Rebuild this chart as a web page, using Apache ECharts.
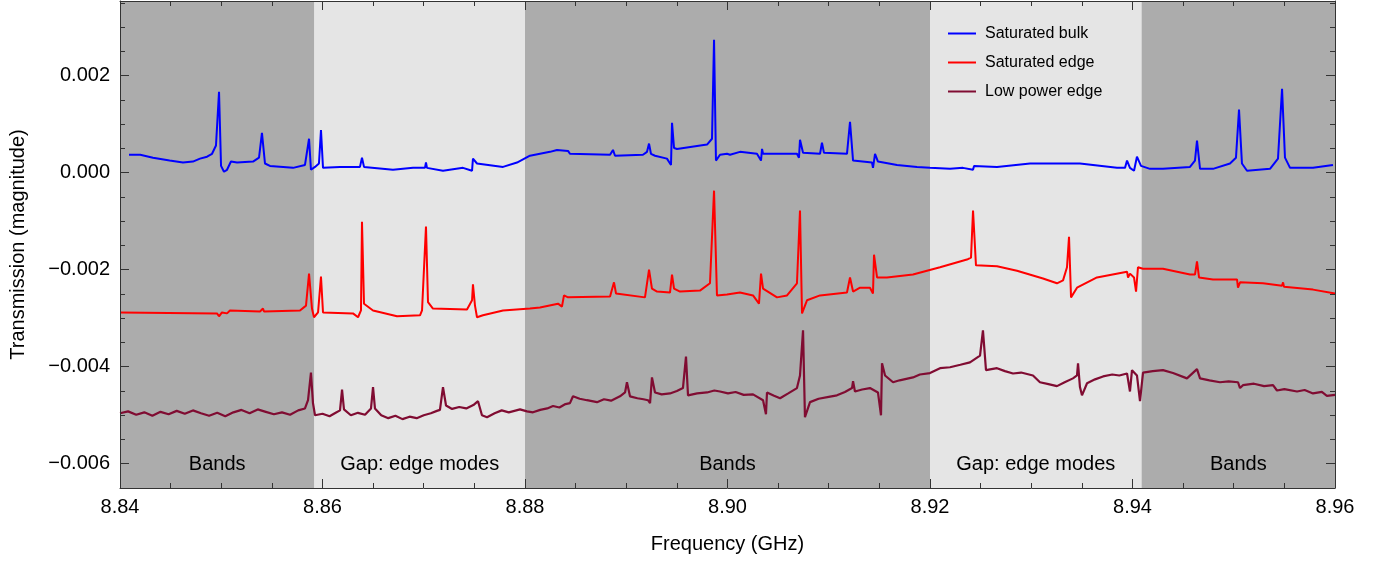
<!DOCTYPE html>
<html>
<head>
<meta charset="utf-8">
<script src="https://cdn.jsdelivr.net/npm/echarts@6/dist/echarts.min.js"></script>
<style>html,body{margin:0;padding:0;background:#fff}#c{width:1391px;height:561px}</style>
</head>
<body>
<div id="c"></div>
<script>
// ---- data ----
const xMajor = [8.84, 8.86, 8.88, 8.90, 8.92, 8.94, 8.96];
const xMinor = [8.845, 8.85, 8.855, 8.865, 8.87, 8.875, 8.885, 8.89, 8.895, 8.905, 8.91, 8.915, 8.925, 8.93, 8.935, 8.945, 8.95, 8.955];
const yMajor = [-0.006, -0.004, -0.002, 0.000, 0.002];
const yMinor = [-0.0065, -0.0055, -0.005, -0.0045, -0.0035, -0.003, -0.0025, -0.0015, -0.001, -0.0005, 0.0005, 0.001, 0.0015, 0.0025, 0.003, 0.0035];
const bandEdges = [8.84, 8.8592, 8.88, 8.92, 8.9409, 8.96];
const bandLabels = ['Bands', 'Gap: edge modes', 'Bands', 'Gap: edge modes', 'Bands'];
const bandIsGap = [false, true, false, true, false];
const seriesNames = ['Saturated bulk', 'Saturated edge', 'Low power edge'];

const saturatedBulk = [
[8.84089,0.00037],[8.84200,0.00037],[8.84326,0.00031],[8.84490,0.00025],[8.84622,0.00021],[8.84720,0.00023],[8.84790,0.00029],[8.84860,0.00033],[8.84909,0.00039],[8.84948,0.00056],
[8.84978,0.00167],[8.84998,0.00014],[8.85027,0.00002],[8.85057,0.00006],[8.85096,0.00023],[8.85156,0.00021],
[8.85314,0.00023],[8.85373,0.00031],[8.85402,0.00082],[8.85432,0.00019],[8.85481,0.00014],[8.85709,0.00010],
[8.85827,0.00016],[8.85867,0.00070],[8.85886,0.00006],[8.85926,0.00012],[8.85965,0.00019],[8.85985,0.00088],
[8.86005,0.00010],[8.86173,0.00012],[8.86370,0.00012],[8.86390,0.00031],[8.86410,0.00012],[8.86696,0.00006],
[8.86894,0.00010],[8.87012,0.00010],[8.87022,0.00021],[8.87032,0.00010],[8.87190,0.00004],[8.87388,0.00010],
[8.87477,0.00004],[8.87486,0.00029],[8.87526,0.00019],[8.87783,0.00012],[8.87921,0.00021],[8.88049,0.00035],
[8.88247,0.00043],[8.88316,0.00047],[8.88425,0.00045],[8.88444,0.00039],[8.88840,0.00037],[8.88869,0.00047],
[8.88889,0.00035],[8.89165,0.00037],[8.89205,0.00043],[8.89225,0.00060],[8.89244,0.00039],[8.89284,0.00035],
[8.89402,0.00029],[8.89442,0.00016],[8.89452,0.00103],[8.89472,0.00051],[8.89501,0.00049],[8.89798,0.00058],
[8.89847,0.00070],[8.89867,0.00274],[8.89886,0.00025],[8.89926,0.00037],[8.89995,0.00039],[8.90025,0.00037],
[8.90123,0.00043],[8.90291,0.00039],[8.90331,0.00025],[8.90341,0.00049],[8.90351,0.00039],[8.90686,0.00039],
[8.90706,0.00031],[8.90716,0.00068],[8.90746,0.00041],[8.90914,0.00039],[8.90933,0.00062],[8.90953,0.00041],
[8.91180,0.00039],[8.91210,0.00105],[8.91240,0.00025],[8.91427,0.00021],[8.91437,0.00010],[8.91457,0.00039],
[8.91486,0.00023],[8.91674,0.00016],[8.91872,0.00012],[8.92000,0.00010],[8.92198,0.00008],[8.92326,0.00010],
[8.92425,0.00006],[8.92435,0.00014],[8.92662,0.00012],[8.92988,0.00019],[8.93481,0.00019],[8.93847,0.00010],
[8.93926,0.00010],[8.93946,0.00025],[8.93975,0.00010],[8.94015,0.00004],[8.94044,0.00033],[8.94084,0.00014],
[8.94173,0.00008],[8.94301,0.00008],[8.94568,0.00012],[8.94617,0.00025],[8.94637,0.00066],[8.94667,0.00008],
[8.94795,0.00008],[8.94963,0.00019],[8.95022,0.00031],[8.95052,0.00130],[8.95081,0.00019],[8.95131,0.00004],
[8.95358,0.00008],[8.95437,0.00029],[8.95477,0.00173],[8.95506,0.00031],[8.95556,0.00010],[8.95783,0.00010],
[8.95980,0.00016]
];

const saturatedEdge = [
[8.84000,-0.00288],[8.84958,-0.00290],[8.84978,-0.00296],[8.85007,-0.00288],[8.85057,-0.00290],[8.85086,-0.00284],
[8.85383,-0.00286],[8.85412,-0.00280],[8.85422,-0.00286],[8.85778,-0.00284],[8.85837,-0.00274],[8.85867,-0.00208],
[8.85896,-0.00280],[8.85916,-0.00298],[8.85956,-0.00288],[8.85985,-0.00214],[8.86005,-0.00288],[8.86301,-0.00290],
[8.86351,-0.00298],[8.86380,-0.00284],[8.86390,-0.00101],[8.86410,-0.00270],[8.86499,-0.00284],[8.86736,-0.00296],
[8.86963,-0.00294],[8.86983,-0.00284],[8.87022,-0.00111],[8.87042,-0.00267],[8.87091,-0.00280],[8.87427,-0.00282],
[8.87477,-0.00263],[8.87486,-0.00230],[8.87506,-0.00274],[8.87526,-0.00298],[8.87585,-0.00294],[8.87783,-0.00284],
[8.88049,-0.00280],[8.88148,-0.00278],[8.88326,-0.00270],[8.88365,-0.00276],[8.88385,-0.00253],[8.88425,-0.00257],
[8.88840,-0.00255],[8.88879,-0.00226],[8.88899,-0.00249],[8.89185,-0.00257],[8.89225,-0.00200],[8.89254,-0.00239],
[8.89304,-0.00245],[8.89432,-0.00247],[8.89442,-0.00251],[8.89452,-0.00210],[8.89472,-0.00239],[8.89531,-0.00245],
[8.89728,-0.00243],[8.89827,-0.00228],[8.89867,-0.00037],[8.89896,-0.00253],[8.89995,-0.00251],[8.90005,-0.00255],
[8.90123,-0.00247],[8.90252,-0.00253],[8.90311,-0.00270],[8.90331,-0.00208],[8.90351,-0.00239],[8.90489,-0.00257],
[8.90588,-0.00253],[8.90686,-0.00228],[8.90716,-0.00078],[8.90736,-0.00290],[8.90785,-0.00263],[8.90914,-0.00253],
[8.91180,-0.00247],[8.91210,-0.00216],[8.91240,-0.00245],[8.91309,-0.00237],[8.91407,-0.00237],[8.91437,-0.00249],
[8.91447,-0.00169],[8.91477,-0.00216],[8.91575,-0.00216],[8.91832,-0.00210],[8.92099,-0.00195],[8.92365,-0.00179],
[8.92405,-0.00175],[8.92425,-0.00078],[8.92454,-0.00191],[8.92662,-0.00193],[8.92859,-0.00202],[8.93116,-0.00218],
[8.93254,-0.00228],[8.93314,-0.00222],[8.93353,-0.00195],[8.93373,-0.00132],[8.93393,-0.00257],[8.93452,-0.00237],
[8.93649,-0.00216],[8.93946,-0.00204],[8.93956,-0.00216],[8.93975,-0.00208],[8.94015,-0.00216],[8.94035,-0.00245],
[8.94054,-0.00195],[8.94104,-0.00198],[8.94301,-0.00198],[8.94568,-0.00210],[8.94617,-0.00210],[8.94637,-0.00183],
[8.94657,-0.00216],[8.94795,-0.00220],[8.95032,-0.00220],[8.95042,-0.00237],[8.95062,-0.00226],[8.95289,-0.00228],
[8.95477,-0.00233],[8.95487,-0.00226],[8.95496,-0.00235],[8.95783,-0.00241],[8.96000,-0.00249]
];

const lowPowerEdge = [
[8.8400,-0.00496],[8.8408,-0.00492],[8.8416,-0.00499],[8.8424,-0.00494],[8.8432,-0.00501],[8.8440,-0.00493],
[8.8448,-0.00498],[8.8456,-0.00491],[8.8464,-0.00497],[8.8472,-0.00490],[8.8480,-0.00496],[8.8488,-0.00501],
[8.8496,-0.00495],[8.8504,-0.00502],[8.8512,-0.00494],[8.8520,-0.00489],[8.8528,-0.00496],[8.8536,-0.00488],
[8.8544,-0.00493],[8.8552,-0.00498],[8.8560,-0.00494],[8.8568,-0.00499],[8.8576,-0.00490],[8.85827,-0.00486],
[8.85857,-0.00469],[8.85886,-0.00412],[8.85906,-0.00475],[8.85926,-0.00500],[8.8600,-0.00497],[8.8607,-0.00502],
[8.8613,-0.00495],[8.86173,-0.00490],[8.86193,-0.00447],[8.86212,-0.00488],[8.8628,-0.00500],[8.8635,-0.00495],
[8.8642,-0.00499],[8.86479,-0.00486],[8.86499,-0.00442],[8.86518,-0.00486],[8.8658,-0.00500],[8.8665,-0.00506],
[8.8672,-0.00501],[8.8679,-0.00508],[8.8686,-0.00503],[8.8693,-0.00506],[8.8700,-0.00500],[8.8707,-0.00496],
[8.8713,-0.00491],[8.87160,-0.00489],[8.87190,-0.00442],[8.87220,-0.00480],[8.8728,-0.00487],[8.8735,-0.00483],
[8.8742,-0.00486],[8.8749,-0.00479],[8.87506,-0.00478],[8.87536,-0.00471],[8.87575,-0.00500],[8.87625,-0.00504],
[8.8770,-0.00496],[8.8777,-0.00490],[8.8784,-0.00494],[8.87951,-0.00488],[8.8802,-0.00492],[8.88079,-0.00494],
[8.8815,-0.00489],[8.8822,-0.00486],[8.88277,-0.00481],[8.8834,-0.00484],[8.8840,-0.00477],[8.88444,-0.00475],
[8.88474,-0.00461],[8.8854,-0.00466],[8.88612,-0.00469],[8.88711,-0.00473],[8.8878,-0.00467],[8.8885,-0.00470],
[8.88938,-0.00461],[8.88988,-0.00453],[8.89007,-0.00432],[8.89037,-0.00461],[8.8911,-0.00465],[8.8917,-0.00467],
[8.89215,-0.00469],[8.89235,-0.00475],[8.89254,-0.00422],[8.89284,-0.00453],[8.8935,-0.00457],[8.89432,-0.00455],
[8.8950,-0.00450],[8.89560,-0.00444],[8.89590,-0.00379],[8.89610,-0.00459],[8.8970,-0.00455],[8.89798,-0.00453],
[8.8987,-0.00449],[8.89926,-0.00451],[8.90005,-0.00455],[8.9008,-0.00452],[8.9016,-0.00458],[8.90252,-0.00457],
[8.90351,-0.00469],[8.90380,-0.00498],[8.90390,-0.00453],[8.9046,-0.00460],[8.90519,-0.00465],[8.9060,-0.00455],
[8.90686,-0.00444],[8.90716,-0.00418],[8.90746,-0.00325],[8.90765,-0.00504],[8.90815,-0.00473],[8.9090,-0.00466],
[8.9100,-0.00462],[8.91081,-0.00459],[8.9116,-0.00452],[8.91230,-0.00444],[8.91240,-0.00430],[8.91259,-0.00451],
[8.9133,-0.00447],[8.91407,-0.00444],[8.91486,-0.00453],[8.91516,-0.00500],[8.91526,-0.00393],[8.91556,-0.00418],
[8.91635,-0.00432],[8.9170,-0.00428],[8.91832,-0.00422],[8.9190,-0.00416],[8.9200,-0.00413],[8.92099,-0.00403],
[8.92198,-0.00401],[8.9230,-0.00396],[8.92395,-0.00391],[8.92494,-0.00377],[8.92523,-0.00325],[8.92553,-0.00407],
[8.92662,-0.00403],[8.9274,-0.00409],[8.92820,-0.00414],[8.9290,-0.00412],[8.93017,-0.00418],[8.93086,-0.00432],
[8.9317,-0.00436],[8.93254,-0.00440],[8.9333,-0.00432],[8.93412,-0.00424],[8.93452,-0.00418],[8.93462,-0.00393],
[8.93481,-0.00442],[8.93501,-0.00459],[8.93551,-0.00434],[8.9363,-0.00426],[8.93709,-0.00420],[8.9380,-0.00416],
[8.93870,-0.00418],[8.93946,-0.00414],[8.93975,-0.00451],[8.93995,-0.00407],[8.94044,-0.00418],[8.94074,-0.00471],
[8.94104,-0.00412],[8.9420,-0.00409],[8.94301,-0.00407],[8.9440,-0.00413],[8.94538,-0.00424],[8.94637,-0.00405],
[8.94667,-0.00424],[8.9476,-0.00428],[8.94864,-0.00432],[8.9495,-0.00430],[8.95042,-0.00432],[8.95062,-0.00444],
[8.95091,-0.00438],[8.9520,-0.00435],[8.9530,-0.00440],[8.95388,-0.00438],[8.95427,-0.00449],[8.9550,-0.00446],
[8.95625,-0.00451],[8.9570,-0.00448],[8.95783,-0.00455],[8.9587,-0.00452],[8.9592,-0.00460],[8.9600,-0.00458]
];

// ---- chart ----
const FONT = "'Liberation Sans', Arial, sans-serif";
const frameColor = '#333';
const lineColors = ['#0000ff', '#ff0000', '#800c32'];
const X_MIN = 8.84, X_MAX = 8.96, Y_MIN = -0.0065, Y_MAX = 0.00354;

function fmtY(v) {
  const s = Math.abs(v) < 1e-12 ? '0.000' : v.toFixed(3);
  return s.replace('-', '\u2212');
}

function xAx(pos, ticks, len, showLine, labels) {
  return {
    type: 'value', min: X_MIN, max: X_MAX, position: pos, z: 10,
    splitLine: { show: false },
    axisLine: { show: showLine, onZero: false, lineStyle: { color: frameColor, width: 1 } },
    axisTick: { show: true, inside: true, length: len, customValues: ticks, lineStyle: { color: frameColor, width: 1 } },
    axisLabel: labels ? { show: true, customValues: ticks, formatter: v => v.toFixed(2), fontSize: 20, color: '#000', fontFamily: FONT, margin: 9 } : { show: false },
    name: labels ? 'Frequency (GHz)' : '',
    nameLocation: 'middle', nameGap: 46,
    nameTextStyle: { fontSize: 20, color: '#000', fontFamily: FONT }
  };
}
function yAx(pos, ticks, len, showLine, labels) {
  return {
    type: 'value', min: Y_MIN, max: Y_MAX, position: pos, z: 10,
    splitLine: { show: false },
    axisLine: { show: showLine, onZero: false, lineStyle: { color: frameColor, width: 1 } },
    axisTick: { show: true, inside: true, length: len, customValues: ticks, lineStyle: { color: frameColor, width: 1 } },
    axisLabel: labels ? { show: true, customValues: ticks, formatter: fmtY, fontSize: 20, color: '#000', fontFamily: FONT, margin: 10 } : { show: false },
    name: labels ? 'Transmission (magnitude)' : '',
    nameLocation: 'middle', nameGap: 92, nameRotate: 90,
    nameTextStyle: { fontSize: 20, color: '#000', fontFamily: FONT }
  };
}

const bands = [];
for (let i = 0; i < bandLabels.length; i++) {
  bands.push([
    { xAxis: bandEdges[i], yAxis: Y_MIN, name: bandLabels[i],
      itemStyle: { color: bandIsGap[i] ? '#e5e5e5' : '#acacac' } },
    { xAxis: bandEdges[i + 1], yAxis: Y_MAX }
  ]);
}

const chart = echarts.init(document.getElementById('c'), null, { renderer: 'canvas' });
chart.setOption({
  animation: false,
  backgroundColor: '#fff',
  grid: { left: 120, right: 56, top: 1, bottom: 73 },
  xAxis: [
    xAx('bottom', xMajor, 9, true, true),
    xAx('bottom', xMinor, 5, false, false),
    xAx('top', xMajor, 9, true, false),
    xAx('top', xMinor, 5, false, false)
  ],
  yAxis: [
    yAx('left', yMajor, 9, true, true),
    yAx('left', yMinor, 5, false, false),
    yAx('right', yMajor, 9, true, false),
    yAx('right', yMinor, 5, false, false)
  ],
  legend: {
    orient: 'vertical', left: 943, top: 20, icon: 'rect', itemWidth: 28, itemHeight: 2, itemGap: 12,
    data: seriesNames,
    textStyle: { fontSize: 16, lineHeight: 17, color: '#000', fontFamily: FONT, padding: [0, 0, 0, 4] }
  },
  graphic: [
    { type: 'text', left: 133, top: 7, style: { text: 'a', fontSize: 26, fill: '#000', fontFamily: FONT } },
    { type: 'text', left: 133, top: 364, style: { text: 'b', fontSize: 26, fill: '#000', fontFamily: FONT } }
  ],
  series: [
    {
      type: 'line', data: [], z: 0, silent: true,
      markArea: {
        silent: true,
        label: { show: true, position: 'insideBottom', distance: 14, fontSize: 20, color: '#000', fontFamily: FONT },
        data: bands
      }
    },
    { name: seriesNames[2], type: 'line', data: lowPowerEdge, symbol: 'none', z: 3,
      lineStyle: { color: lineColors[2], width: 2.2 }, itemStyle: { color: lineColors[2] } },
    { name: seriesNames[1], type: 'line', data: saturatedEdge, symbol: 'none', z: 4,
      lineStyle: { color: lineColors[1], width: 2 }, itemStyle: { color: lineColors[1] } },
    { name: seriesNames[0], type: 'line', data: saturatedBulk, symbol: 'none', z: 5,
      lineStyle: { color: lineColors[0], width: 2 }, itemStyle: { color: lineColors[0] } }
  ]
});
</script>
</body>
</html>
